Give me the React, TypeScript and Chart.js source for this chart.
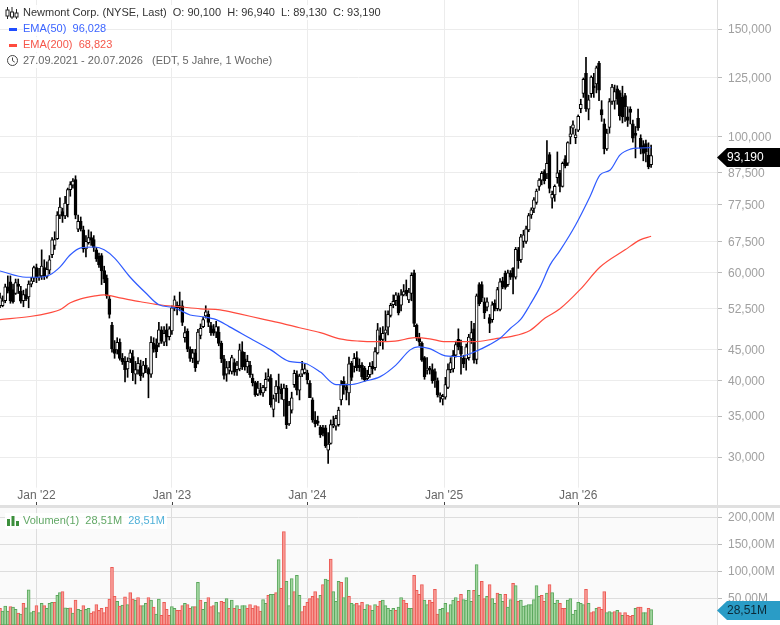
import React, { useEffect, useRef } from 'react';
import { Chart, registerables } from 'chart.js';

Chart.register(...registerables);

// weekly candles, 27.09.2021 - 20.07.2026
const opens = [
  53, 53, 54, 56.9, 58, 56.3, 55.5, 57.5, 56, 54, 55.3, 54.8, 57.5, 58.8, 61.2, 59, 59.3, 61.2, 59.2, 60.6,
  64.2, 66.5, 68.2, 74.5, 75.5, 74.3, 77.5, 82, 83.4, 85.2, 70.7, 72.8, 70.5, 65.6, 67.2, 68.5, 68, 65.4, 63.8, 64,
  60.5, 58.8, 54.4, 49.3, 45, 44.9, 46.2, 43.5, 43, 41.8, 43.4, 43.8, 41, 41.6, 42.2, 41.1, 42.4, 41.8, 41, 46,
  45.8, 46, 48.4, 46.2, 48.4, 47.2, 48.2, 52.6, 53.1, 52.6, 53, 47, 48.2, 45, 43.5, 44.4, 43, 47.4, 49, 51,
  51.3, 49.2, 48.6, 48, 48, 46, 43.4, 41, 41.6, 41.4, 42.8, 41.7, 41.8, 44.6, 43.4, 42.1, 42.4, 40.4, 39.7, 38,
  38.6, 38.2, 38.9, 40.2, 40.4, 35.9, 38.1, 39.1, 38.7, 37.2, 38.9, 34, 35.8, 39.4, 40.9, 38.6, 41, 41.2, 41.2, 39.6,
  37.2, 34.5, 34.2, 33.6, 33.5, 33.5, 30.8, 31.6, 33.7, 33.7, 33.9, 37.2, 39.9, 39, 38.2, 42.7, 42.2, 43.6, 42.4, 42.4,
  41.9, 40.3, 40.9, 42.2, 42, 44.4, 47.4, 46.7, 47.8, 48.9, 51.1, 53.2, 54, 55, 53.1, 55.2, 56.2, 54.2, 55.5, 60,
  49.3, 47, 46, 43.6, 41.6, 41.7, 41.7, 41.4, 40, 37.6, 37.3, 37.6, 39, 41.7, 41.8, 44, 46.7, 45.5, 43.5, 43.4,
  43.6, 46.8, 48.6, 43.3, 57.4, 57.4, 53.8, 52.7, 50.7, 50.3, 53.5, 52.4, 52.3, 58.2, 59.9, 57.4, 59.9, 61, 59, 65.4,
  63, 67.5, 67.5, 70.5, 74.6, 76.4, 78.2, 83, 85, 87.8, 87, 93.6, 79.4, 80.4, 85.8, 87.4, 83, 92.1, 90.6, 100,
  103.3, 99.7, 102.6, 111.2, 117.8, 127, 111, 117.6, 120.8, 122, 132, 110.8, 105, 95.6, 103.6, 114.3, 114.4, 119.8, 118, 116,
  116.8, 107.8, 111, 105, 100.8, 107.2, 99.5, 96.8, 97.5, 93.4, 90.1,
];
const highs = [
  55.6, 55, 57.5, 59.3, 59.3, 57.5, 58.6, 58.6, 57, 56.2, 56.5, 58.2, 59, 61.5, 62, 61, 65.4, 63, 62.5, 64,
  68.5, 70, 75.5, 79.5, 76.5, 80, 82.5, 84.5, 85.5, 86.4, 74.5, 74, 71.5, 69, 70.5, 70, 69, 66, 64.6, 64.5,
  61.5, 59.5, 55, 49.8, 46.5, 47, 46.8, 44.3, 43.8, 43.6, 44.9, 44.8, 43, 43.6, 43.2, 43, 43.5, 42, 47.2, 47,
  46.8, 49.8, 49, 49, 49.5, 49, 53, 55, 53.8, 55.8, 54, 49, 48.6, 45.4, 45, 45, 48.5, 49.5, 50.8, 53,
  52, 49.8, 49.4, 50, 49, 46.4, 44, 43, 43, 44, 43.4, 43, 45.9, 46.3, 44.5, 44, 43, 41, 39.9, 39.9,
  39.6, 39.3, 41.2, 41.8, 40.9, 37.9, 40, 41, 39.5, 39.5, 39.3, 37, 38.3, 41.6, 41.5, 41, 43, 42.6, 41.6, 40,
  37.5, 35.6, 35, 33.8, 33.8, 33.8, 32.9, 34.5, 35, 35.1, 36.2, 40, 40.6, 39.5, 43.7, 43, 44.3, 44.6, 43.4, 42.8,
  42.2, 41.6, 42.8, 43, 45.3, 49.6, 48.8, 49, 52, 52, 53.5, 55.2, 55.7, 55.6, 56.3, 57.4, 58.4, 56.6, 60, 60.6,
  49.5, 47.8, 46.3, 43.8, 43.6, 42.2, 42.6, 41.8, 40.4, 38.2, 38, 40.5, 42.6, 43.6, 44.8, 46.4, 48.6, 46.6, 44, 45.9,
  47.6, 50, 49.6, 55.4, 57.8, 58, 54.6, 54.6, 51.3, 53.8, 54.2, 56.8, 58.7, 59, 60.4, 60.6, 60.5, 61.2, 66, 66,
  69.3, 70.4, 71.5, 75, 76.6, 79.6, 82.2, 85.5, 87.8, 88.4, 98.6, 94.3, 81.6, 83.5, 94.5, 88.2, 91, 93.2, 98.2, 104,
  106.2, 103, 108.6, 115.2, 124.8, 134.8, 117, 125.8, 127, 130.5, 132.8, 114.6, 107, 103, 115.5, 121.8, 121.5, 121.2, 119, 121,
  117.8, 112, 112, 106.5, 104, 111, 100.8, 98.6, 98.8, 97.8, 96.94,
];
const lows = [
  52.6, 52.8, 53.6, 55.6, 53.5, 53.5, 55.3, 55.5, 53.5, 52.8, 54, 52.6, 56.9, 58, 57.8, 58.3, 58.5, 58.5, 58.8, 59.8,
  63.5, 65.5, 68, 73.5, 72.5, 73.5, 74, 80, 82.5, 73.5, 70, 70.2, 64.8, 63.7, 66.8, 66.5, 65, 62.6, 61.2, 57.4,
  57.8, 54.5, 50.6, 44.5, 43.5, 44.2, 43.2, 42.5, 39.8, 40.5, 42.8, 40, 39.5, 41, 40, 40.5, 41.2, 37.5, 40.5, 44.5,
  43.6, 45.4, 46, 45.6, 45.6, 46.6, 47.6, 52, 51.2, 52, 49.2, 46.2, 44.6, 43, 42.8, 41.4, 42.6, 46.8, 48.8, 50.6,
  49, 47.4, 47.4, 47, 45.6, 42.8, 40.2, 39.9, 41, 41, 40.8, 40.8, 41.5, 41.7, 41.6, 41.2, 40.5, 39.2, 37.7, 37.8,
  37.9, 37.7, 38.5, 39.9, 36.2, 34.9, 37, 36.8, 37.3, 35, 33.4, 33.8, 35.4, 39, 37.9, 37.2, 40.6, 41, 39.5, 37.5,
  34.2, 33.6, 33.8, 32.3, 32.5, 31.1, 29.3, 31.5, 33.5, 33.2, 33.7, 36.5, 38, 37.2, 36.5, 40, 41.3, 41.5, 41.4, 40.2,
  39.9, 40, 40.5, 41, 41.6, 44.2, 45.6, 45, 46.4, 47.5, 50.8, 52.6, 53, 51.2, 52, 55, 55, 53.6, 54, 49,
  46.5, 45.6, 43, 40.2, 41, 41, 39.6, 39, 37.6, 36.9, 36.5, 37.3, 38.8, 41.2, 41.3, 43.7, 44.9, 41, 42, 41.6,
  43.2, 46, 42.7, 42.6, 53, 53.8, 50.5, 52, 47.9, 49.8, 52, 52, 52, 56.5, 56.4, 57, 58.5, 55.4, 58.6, 61,
  62.4, 66, 67, 70, 73.6, 75.2, 77.6, 81.8, 83.5, 83.8, 85.5, 81, 76.5, 78.5, 84, 81.3, 82.8, 89, 89.8, 97.4,
  101, 97.5, 102, 109.5, 116, 110, 106.6, 116, 116, 118, 114.6, 106, 93.8, 95, 101.4, 113, 111, 113, 106.5, 105.4,
  106, 104, 105, 98, 92.4, 102.5, 93.8, 91.4, 91, 88.7, 89.13,
];
const closes = [
  54.6, 54, 56.9, 56, 54, 53.8, 57.8, 57, 53.9, 55.3, 54.4, 57.5, 58.2, 61.2, 59, 59.5, 61.5, 59.2, 60.8, 63,
  67.9, 68, 74.5, 76.8, 74.2, 78, 82, 83.6, 84.7, 74.5, 72.8, 70.7, 65.6, 67.5, 68.5, 67.8, 66, 63.2, 61.8, 60.4,
  58.6, 55, 51.3, 45.1, 44.3, 46.2, 43.5, 42.9, 41.7, 43, 44.4, 41.2, 41.7, 42.7, 40.7, 42.4, 41.8, 41, 46.2, 45,
  44.6, 48.4, 46.4, 47.8, 47.1, 48.6, 52.6, 54.2, 52.6, 53, 49.8, 47.9, 45, 43.5, 44.4, 42, 48, 48.7, 50.3, 51.8,
  49.8, 47.9, 47.8, 49, 46, 43.4, 40.8, 42, 42, 43.6, 41.3, 42.4, 44.9, 42.1, 42.1, 43, 40.9, 39.7, 37.9, 38.9,
  38.2, 39, 40.2, 40.6, 36.5, 37.4, 39.2, 38.7, 38.1, 38.9, 33.9, 36.5, 37.5, 41.1, 38.6, 40.7, 41.7, 41.8, 40.1, 37.5,
  34.5, 34, 34.1, 32.6, 32.8, 31.3, 31.5, 33.9, 33.9, 34.7, 35.8, 39.4, 39, 38.6, 42.6, 40.5, 43.5, 42, 42, 40.6,
  40.1, 40.6, 42.2, 41.8, 44.6, 48.4, 46.6, 47.8, 48.4, 51.3, 53.1, 53.9, 55.2, 51.6, 55.2, 55.9, 55.4, 55.8, 59.4, 49.6,
  46.9, 46.2, 43.2, 40.6, 41.7, 41.6, 40, 40.1, 37.9, 37.9, 37.7, 39.4, 41.7, 42.8, 44, 45.8, 45.4, 44.2, 42.6, 45.4,
  47.1, 47.9, 43.2, 55, 53.4, 54.6, 51.6, 53.8, 49.6, 53.2, 52.4, 56.3, 58, 56.9, 56.8, 60, 59, 59, 65.5, 62.8,
  68.7, 69.2, 70.8, 74.4, 76, 78.9, 81.6, 85, 87.2, 84.8, 90.5, 82.4, 80.6, 83, 87.4, 83, 90.5, 89.7, 97.9, 101.2,
  104.6, 100.8, 108, 113, 124.2, 111.2, 115, 125.2, 120.2, 129.6, 119.2, 108.6, 95.6, 101.4, 114.2, 120.6, 118.6, 115.4, 108.2, 107.8,
  112, 106.4, 109.6, 99.5, 100.6, 103.4, 95.8, 94, 94.6, 89.3, 93.19,
];

// every few weeks
const ema50Weeks = [0, 10, 15, 19, 23, 27, 31, 36.5, 40, 44, 50, 56, 61, 67, 73, 77, 83, 88, 96, 104, 111, 117, 123, 129, 134.4, 140, 146, 152, 157.5, 160.5, 165, 171, 176.6, 182.4, 188, 192, 196, 200, 203.5, 207.4, 211.2, 215, 221, 226.6, 230.4, 234.3, 238, 242, 245.8, 250];
const ema50Values = [60.4, 59, 59, 59.5, 61.3, 64.2, 65.9, 66.1, 65.4, 63.4, 59, 55.6, 53.2, 52.6, 51.2, 50.9, 50.3, 49, 46.9, 44.9, 43, 42.7, 41.3, 39.4, 39.4, 39.9, 40.6, 42.4, 44.9, 45.4, 45.1, 43.9, 43.8, 44.6, 45.8, 46.9, 48.7, 50.4, 53.2, 56.9, 61.8, 65.2, 71.8, 80, 86.7, 88.3, 93.4, 95.5, 95.9, 96.028];
const ema200Weeks = [0, 11.5, 19, 23, 27, 31, 36.5, 40, 46, 54, 61, 69, 77, 84.5, 92, 100, 107.5, 115, 123, 130.5, 138, 144, 151.7, 159.4, 165, 171, 182.4, 190, 196, 203.5, 209.3, 215, 222.7, 230.4, 240, 245.8, 250];
const ema200Values = [50.3, 50.9, 51.6, 52.2, 53.6, 54.4, 55, 55.2, 54.6, 53.8, 53.2, 52.8, 52.4, 52.2, 51.4, 50.5, 49.7, 48.8, 47.9, 46.8, 46.4, 46.3, 46.4, 47, 46.8, 46.3, 46.3, 46.8, 47.2, 48.3, 50.6, 52.4, 56.3, 61.3, 65.4, 67.9, 68.823];

const volumes = [
  31, 26, 35, 26, 34, 33, 29, 22, 20, 40, 32, 65, 23, 26, 36, 23, 40, 36, 31, 40,
  42, 42, 55, 60, 62, 32, 31, 32, 22, 46, 29, 27, 36, 29, 31, 22, 25, 38, 27, 31,
  23, 33, 48, 107, 53, 44, 35, 37, 52, 38, 60, 48, 46, 51, 36, 36, 40, 51, 46, 33,
  20, 48, 18, 42, 29, 18, 34, 31, 27, 27, 36, 40, 38, 31, 34, 34, 79, 46, 29, 42,
  51, 34, 36, 42, 23, 44, 42, 49, 31, 46, 31, 36, 29, 36, 36, 31, 38, 31, 36, 34,
  26, 47, 40, 55, 57, 57, 60, 121, 68, 173, 81, 36, 86, 62, 92, 55, 25, 35, 42, 49,
  53, 62, 49, 55, 75, 85, 83, 122, 62, 44, 81, 79, 51, 88, 53, 40, 38, 40, 36, 42,
  29, 38, 36, 27, 38, 35, 44, 46, 36, 31, 27, 31, 27, 33, 51, 46, 40, 31, 31, 92,
  64, 57, 75, 46, 38, 46, 42, 66, 20, 29, 31, 40, 23, 38, 46, 51, 44, 57, 47, 46,
  64, 44, 64, 112, 55, 81, 49, 53, 75, 49, 40, 59, 57, 44, 57, 33, 47, 77, 73, 44,
  46, 35, 36, 38, 38, 47, 73, 53, 55, 44, 59, 75, 60, 40, 46, 40, 31, 31, 46, 49,
  20, 27, 42, 40, 38, 66, 40, 23, 25, 31, 33, 29, 62, 23, 25, 23, 25, 27, 23, 18,
  23, 18, 16, 18, 31, 33, 33, 23, 23, 31, 28.51,
];
// G = rising week, R = falling week
const volumeDirections = (
  'RGGGRGGRGR' + 'GGGGRGGRGG' + 'GRGGRGGRGR' + 'GGRGGRRRRR' + 'RRRRRGRGRG' +
  'RRGRRGGRGR' + 'GGRRRRGGRR' + 'RGRRGRGRGG' + 'RRRGGRRGRG' + 'RGRGGRRRRR' +
  'RGGRGGRGRR' + 'GGGRGGRRRR' + 'RRRGRGGRGG' + 'GRGGRGGRRR' + 'GGRGGRRGGG' +
  'GGRGGRRGGR' + 'RRRGGRRRRG' + 'GGRGGGRRGG' + 'GGRGGRRGRG' + 'GRGGRGGRGR' +
  'GGGGGGGGRR' + 'GRGGGRRRGG' + 'GGGGGRGRRG' + 'RRRGGGRGRG' + 'RRRRGRRGGRG'
).split('');

const janWeeks = [14, 66, 118, 170.5, 222];
const janLabels = ["Jan '22", "Jan '23", "Jan '24", "Jan '25", "Jan '26"];
const priceTicks = [150, 125, 100, 87.5, 77.5, 67.5, 60, 52.5, 45, 40, 35, 30];
const volumeTicks = [200, 150, 100, 50];

const WEEK_MAX = 275.3;
const font = "'Liberation Sans', Arial, sans-serif";

const tagPlugin = (scaleId: string, value: number, text: string, fill: string, color: string, nudge: number) => ({
  id: 'tag' + scaleId + text,
  afterDraw(chart: any) {
    const ctx = chart.ctx;
    const y = Math.round(chart.scales[scaleId].getPixelForValue(value)) + 0.5 + nudge;
    const left = chart.chartArea.right;
    ctx.save();
    ctx.fillStyle = fill;
    ctx.beginPath();
    ctx.moveTo(left, y);
    ctx.lineTo(left + 10, y - 9.5);
    ctx.lineTo(780, y - 9.5);
    ctx.lineTo(780, y + 9.5);
    ctx.lineTo(left + 10, y + 9.5);
    ctx.closePath();
    ctx.fill();
    ctx.fillStyle = color;
    ctx.font = '12px ' + font;
    ctx.textBaseline = 'middle';
    ctx.fillText(text, left + 10, y + 0.5);
    ctx.restore();
  },
});

const xTickMarks = {
  id: 'xTickMarks',
  afterDraw(chart: any) {
    const ctx = chart.ctx;
    const b = chart.chartArea.bottom;
    ctx.save();
    ctx.fillStyle = '#444';
    janWeeks.forEach((w) => {
      ctx.fillRect(Math.round(chart.scales.x.getPixelForValue(w)), b - 3, 1, 3);
    });
    ctx.restore();
  },
};

const paneBackground = {
  id: 'paneBackground',
  beforeDraw(chart: any) {
    const { left, top, width, height } = chart.chartArea;
    chart.ctx.fillStyle = '#fafafa';
    chart.ctx.fillRect(left, top, width, height);
  },
};

const noPadding = (s: any) => {
  s.paddingTop = 0;
  s.paddingBottom = 0;
  s.paddingLeft = 0;
  s.paddingRight = 0;
};

const rightAxis = (min: number, max: number, type: string, ticks: number[], label: (v: number) => string, gridColor: string) => ({
  type,
  position: 'right',
  min,
  max,
  afterFit: (s: any) => { s.width = 63; noPadding(s); },
  afterBuildTicks: (s: any) => { s.ticks = ticks.map((value) => ({ value })); },
  grid: { color: gridColor, lineWidth: 1, tickColor: '#bbb', tickLength: 5 },
  border: { color: '#ddd', display: true },
  ticks: {
    autoSkip: false,
    padding: 6,
    labelOffset: 1,
    color: '#a0a0a0',
    font: { family: font, size: 12 },
    callback: (v: any) => label(Number(v)),
  },
});

const App: React.FC = () => {
  const priceRef = useRef<HTMLCanvasElement>(null);
  const volumeRef = useRef<HTMLCanvasElement>(null);

  useEffect(() => {
    document.body.style.margin = '0';
    if (!priceRef.current || !volumeRef.current) return;

    const priceChart = new Chart(priceRef.current, {
      type: 'bar',
      data: {
        datasets: [
          {
            type: 'line',
            data: ema50Weeks.map((x, i) => ({ x, y: ema50Values[i] })),
            borderColor: '#2f5bff',
            borderWidth: 1.2,
            pointRadius: 0,
            cubicInterpolationMode: 'monotone',
            order: 1,
          },
          {
            type: 'line',
            data: ema200Weeks.map((x, i) => ({ x, y: ema200Values[i] })),
            borderColor: '#ff4b3e',
            borderWidth: 1.2,
            pointRadius: 0,
            cubicInterpolationMode: 'monotone',
            order: 1,
          },
          {
            data: opens.map((o, i) => ({ x: i, y: [o, closes[i]] })),
            backgroundColor: opens.map((o, i) => (closes[i] >= o ? '#ffffff' : '#000000')),
            borderColor: '#000000',
            borderWidth: 1,
            borderSkipped: false,
            barThickness: 3,
            minBarLength: 2,
            grouped: false,
            order: 2,
          },
          {
            data: lows.map((l, i) => ({ x: i, y: [l, highs[i]] })),
            backgroundColor: '#000000',
            barThickness: 1,
            grouped: false,
            order: 3,
          },
        ],
      } as any,
      options: {
        animation: false,
        responsive: false,
        layout: { padding: 0 },
        plugins: { legend: { display: false }, tooltip: { enabled: false } },
        scales: {
          x: {
            type: 'linear',
            min: 0,
            max: WEEK_MAX,
            offset: false,
            afterFit: (s: any) => { s.height = 0; noPadding(s); },
            afterBuildTicks: (s: any) => { s.ticks = janWeeks.map((value) => ({ value })); },
            grid: { color: '#ececec', drawTicks: false, offset: false },
            border: { display: false },
            ticks: {
              autoSkip: false,
              maxRotation: 0,
              mirror: true,
              padding: 2,
              color: '#666',
              font: { family: font, size: 12 },
              showLabelBackdrop: true,
              backdropColor: 'rgba(255,255,255,0.85)',
              backdropPadding: 1,
              callback: (_v: any, i: number) => janLabels[i],
            },
          },
          y: rightAxis(25.06, 167.3, 'logarithmic', priceTicks, (v) => v.toFixed(3).replace('.', ','), '#ececec'),
        },
      } as any,
      plugins: [xTickMarks, tagPlugin('y', 93.19, '93,190', '#000000', '#ffffff', 1)] as any,
    });

    const volumeChart = new Chart(volumeRef.current, {
      type: 'bar',
      data: {
        datasets: [
          {
            data: volumes.map((v, i) => ({ x: i, y: v })),
            backgroundColor: volumeDirections.map((d) => (d === 'G' ? '#a3d6a0' : '#f79a95')),
            borderColor: volumeDirections.map((d) => (d === 'G' ? '#5aa75c' : '#ec5a54')),
            borderWidth: 1,
            borderSkipped: false,
            barThickness: 3,
            grouped: false,
          },
        ],
      } as any,
      options: {
        animation: false,
        responsive: false,
        layout: { padding: 0 },
        plugins: { legend: { display: false }, tooltip: { enabled: false } },
        scales: {
          x: {
            type: 'linear',
            min: 0,
            max: WEEK_MAX,
            offset: false,
            afterFit: (s: any) => { s.height = 0; noPadding(s); },
            afterBuildTicks: (s: any) => { s.ticks = janWeeks.map((value) => ({ value })); },
            grid: { color: '#dddddd', drawTicks: false, offset: false },
            border: { display: false },
            ticks: { display: false },
          },
          y: rightAxis(0, 216.7, 'linear', volumeTicks, (v) => v.toFixed(2).replace('.', ',') + 'M', '#dddddd'),
        },
      } as any,
      plugins: [paneBackground, tagPlugin('y', 28.51, '28,51M', '#2a9cc6', '#0c2a38', 0)] as any,
    });

    return () => {
      priceChart.destroy();
      volumeChart.destroy();
    };
  }, []);

  const line: React.CSSProperties = {
    position: 'absolute',
    left: 23,
    height: 15,
    lineHeight: '15px',
    whiteSpace: 'pre',
    background: 'rgba(255,255,255,0.85)',
    fontFamily: font,
    fontSize: 11,
  };

  return (
    <div style={{ position: 'relative', width: 780, height: 625, overflow: 'hidden', background: '#fff' }}>
      <canvas ref={priceRef} width={780} height={505} style={{ position: 'absolute', left: 0, top: 0 }} />
      <div style={{ position: 'absolute', left: 0, top: 505, width: 780, height: 3, background: '#e0e0e0' }} />
      <canvas ref={volumeRef} width={780} height={117} style={{ position: 'absolute', left: 0, top: 508 }} />

      <svg width={14} height={14} style={{ position: 'absolute', left: 5, top: 6 }}>
        <g stroke="#222" fill="none" strokeWidth={1}>
          <path d="M2.5 1v12M7 1v12M11.5 3v10" />
          <rect x={1} y={4} width={3} height={6} fill="#fff" />
          <rect x={5.5} y={6} width={3} height={5} fill="#fff" />
          <rect x={10} y={7} width={3} height={4} fill="#fff" />
        </g>
      </svg>
      <div style={{ ...line, top: 5, color: '#333' }}>{'Newmont Corp. (NYSE, Last)  O: 90,100  H: 96,940  L: 89,130  C: 93,190'}</div>

      <div style={{ position: 'absolute', left: 9, top: 28, width: 8, height: 3, background: '#1f4dff' }} />
      <div style={{ ...line, top: 21, color: '#3b64ff' }}>{'EMA(50)  96,028'}</div>

      <div style={{ position: 'absolute', left: 9, top: 44, width: 8, height: 3, background: '#ff4b3e' }} />
      <div style={{ ...line, top: 37, color: '#f5564a' }}>{'EMA(200)  68,823'}</div>

      <svg width={13} height={13} style={{ position: 'absolute', left: 6, top: 54 }}>
        <circle cx={6.5} cy={6.5} r={5} stroke="#444" fill="none" />
        <path d="M6.5 3.5v3.2l2.2 1.4" stroke="#444" fill="none" />
      </svg>
      <div style={{ ...line, top: 53, color: '#666' }}>{'27.09.2021 - 20.07.2026   (EDT, 5 Jahre, 1 Woche)'}</div>

      <div style={{ position: 'absolute', left: 5, top: 513, width: 162, height: 16, background: 'rgba(255,255,255,0.85)' }} />
      <svg width={14} height={10} style={{ position: 'absolute', left: 7, top: 516 }}>
        <rect x={0} y={3} width={3} height={7} fill="#3c8f3c" />
        <rect x={4.5} y={0} width={3} height={10} fill="#3c8f3c" />
        <rect x={9} y={5} width={3} height={5} fill="#3c8f3c" />
      </svg>
      <div style={{ position: 'absolute', left: 23, top: 513, height: 15, lineHeight: '15px', whiteSpace: 'pre', fontFamily: font, fontSize: 11, color: '#62a866' }}>
        {'Volumen(1)  28,51M  '}
        <span style={{ color: '#4fb0d8' }}>28,51M</span>
      </div>
    </div>
  );
};

export default App;
